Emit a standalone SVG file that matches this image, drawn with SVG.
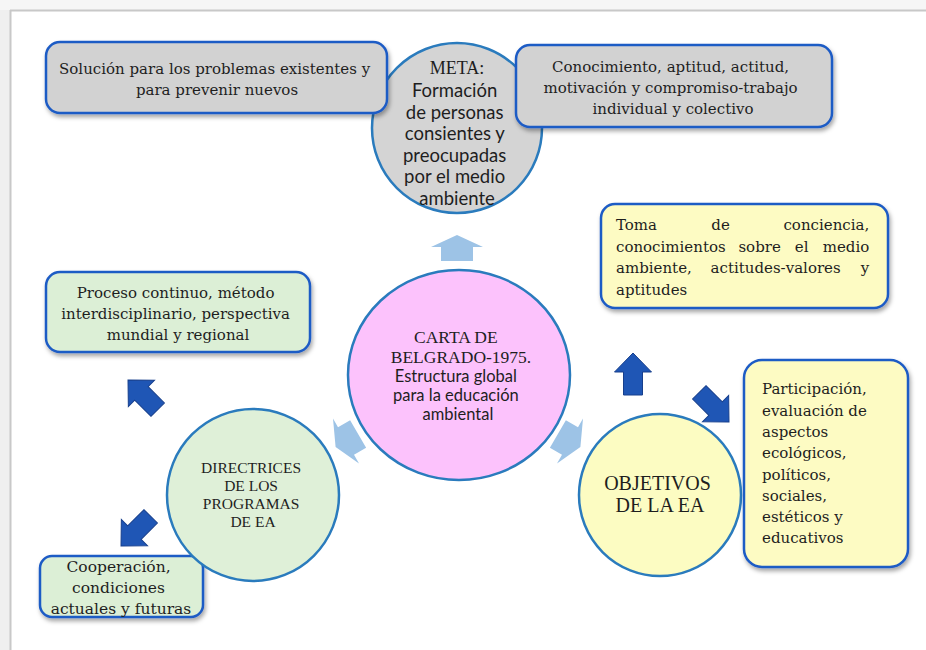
<svg xmlns="http://www.w3.org/2000/svg" width="926" height="650" viewBox="0 0 926 650">
  <style>
    .box { stroke: #1f5bc5; stroke-width: 2.5; filter: url(#shadow); }
    .gray { fill: #d2d2d2; }
    .green { fill: #dcefd6; }
    .yellow { fill: #fdfbc3; }
    .circ { stroke: #2a7bbd; stroke-width: 2.5; }
    .serif { font-family: "Liberation Serif", "DejaVu Serif", serif; fill: #1e1e1e; }
    .body { font-family: "DejaVu Serif", "Liberation Serif", serif; fill: #1e1e1e; font-size: 15px; }
    .sans { font-family: Lato, "Open Sans", "Liberation Sans", sans-serif; fill: #1e1e1e; }
    .mid { text-anchor: middle; }
    .end { text-anchor: end; }
    .light { fill: #9dc3e6; }
    .dark { fill: #1f56b5; stroke: #173f8c; stroke-width: 1; }
  </style>
  <defs>
    <filter id="shadow" x="-10%" y="-10%" width="120%" height="130%">
      <feDropShadow dx="1.5" dy="3" stdDeviation="2" flood-color="#000" flood-opacity="0.35"/>
    </filter>
    <!-- block arrows, pointing along +x -->
    <path id="lightArrow" d="M12,0 L0,-26 L0,-16 L-14,-16 L-14,16 L0,16 L0,26 Z"/>
    <path id="darkArrow" d="M0,0 L-19,-18.5 L-19,-9.5 L-42,-9.5 L-42,9.5 L-19,9.5 L-19,18.5 Z"/>
  </defs>

  <!-- page background and frame -->
  <rect x="0" y="0" width="926" height="650" fill="#ffffff"/>
  <rect x="0" y="0" width="10" height="650" fill="#efefef"/>
  <rect x="0" y="0" width="926" height="10" fill="#f6f6f6"/>
  <line x1="10" y1="10.5" x2="926" y2="10.5" stroke="#c8c8c8" stroke-width="2"/>
  <line x1="10.5" y1="10" x2="10.5" y2="650" stroke="#c8c8c8" stroke-width="2"/>

  <!-- connectors -->
  <g id="connectors">
    <use href="#lightArrow" class="light" transform="translate(457,247) rotate(-90)"/>
    <use href="#lightArrow" class="light" transform="translate(346,441) rotate(150)"/>
    <use href="#lightArrow" class="light" transform="translate(570,441) rotate(30)"/>
    <use href="#darkArrow" class="dark" transform="translate(633,353) rotate(-90)"/>
    <use href="#darkArrow" class="dark" transform="translate(729,422) rotate(45)"/>
    <use href="#darkArrow" class="dark" transform="translate(128,380) rotate(-135)"/>
    <use href="#darkArrow" class="dark" transform="translate(121,546) rotate(135)"/>
  </g>

  <g id="meta">
    <ellipse cx="457" cy="128" rx="85" ry="85" class="circ" fill="#d4d4d4"/>
    <text class="serif mid" x="457" y="74" font-size="18">META:</text>
    <text class="sans mid" font-size="18.5">
      <tspan x="457" y="97">Formación</tspan>
      <tspan x="457" y="118.5">de personas</tspan>
      <tspan x="457" y="140">consientes y</tspan>
      <tspan x="457" y="161.5">preocupadas</tspan>
      <tspan x="457" y="183">por el medio</tspan>
      <tspan x="457" y="204.5">ambiente</tspan>
    </text>
  </g>

  <g id="solucion">
    <rect x="46" y="42" width="341" height="71" rx="14" class="box gray"/>
    <text class="body mid">
      <tspan x="217" y="74">Solución para los problemas existentes y</tspan>
      <tspan x="217" y="95">para prevenir nuevos</tspan>
    </text>
  </g>

  <g id="conocimiento">
    <rect x="516" y="45" width="316" height="82" rx="14" class="box gray"/>
    <text class="body mid">
      <tspan x="673" y="72">Conocimiento, aptitud, actitud,</tspan>
      <tspan x="673" y="93">motivación y compromiso-trabajo</tspan>
      <tspan x="673" y="114">individual y colectivo</tspan>
    </text>
  </g>

  <g id="toma">
    <rect x="601" y="204" width="287" height="104" rx="14" class="box yellow"/>
    <!-- justified paragraph: words placed one by one -->
    <text class="body">
      <tspan x="616" y="230">Toma</tspan>
      <tspan x="723" y="230" text-anchor="middle">de</tspan>
      <tspan x="874" y="230" text-anchor="end">conciencia,</tspan>
      <tspan x="616" y="252">conocimientos</tspan>
      <tspan x="762" y="252" text-anchor="middle">sobre</tspan>
      <tspan x="804" y="252" text-anchor="middle">el</tspan>
      <tspan x="874" y="252" text-anchor="end">medio</tspan>
      <tspan x="616" y="273">ambiente,</tspan>
      <tspan x="778" y="273" text-anchor="middle">actitudes-valores</tspan>
      <tspan x="874" y="273" text-anchor="end">y</tspan>
      <tspan x="616" y="295">aptitudes</tspan>
    </text>
  </g>

  <g id="proceso">
    <rect x="46" y="272" width="264" height="80" rx="14" class="box green"/>
    <text class="body mid">
      <tspan x="178" y="298">Proceso continuo, método</tspan>
      <tspan x="178" y="319">interdisciplinario, perspectiva</tspan>
      <tspan x="178" y="340">mundial y regional</tspan>
    </text>
  </g>

  <g id="carta">
    <ellipse cx="459" cy="375" rx="111" ry="105" class="circ" fill="#fcc2fc"/>
    <text class="serif mid" font-size="17.5">
      <tspan x="458" y="343">CARTA DE</tspan>
      <tspan x="461" y="363">BELGRADO-1975.</tspan>
    </text>
    <text class="sans mid" font-size="16.5">
      <tspan x="458" y="382">Estructura global</tspan>
      <tspan x="458" y="401">para la educación</tspan>
      <tspan x="458" y="420">ambiental</tspan>
    </text>
  </g>

  <g id="cooperacion">
    <rect x="40" y="556" width="163" height="61" rx="12" class="box green"/>
    <text class="body mid" style="font-size:15.5px">
      <tspan x="121" y="572">Cooperación,</tspan>
      <tspan x="121" y="593">condiciones</tspan>
      <tspan x="121" y="614">actuales y futuras</tspan>
    </text>
  </g>

  <g id="directrices">
    <circle cx="253" cy="495" r="86" class="circ" fill="#dff0d8"/>
    <text class="serif mid" font-size="15.5">
      <tspan x="253" y="473">DIRECTRICES</tspan>
      <tspan x="253" y="491">DE LOS</tspan>
      <tspan x="253" y="509">PROGRAMAS</tspan>
      <tspan x="253" y="527">DE EA</tspan>
    </text>
  </g>

  <g id="objetivos">
    <circle cx="660" cy="495" r="81" class="circ" fill="#fcfcc2"/>
    <text class="serif mid" font-size="20">
      <tspan x="660" y="490">OBJETIVOS</tspan>
      <tspan x="660" y="512">DE LA EA</tspan>
    </text>
  </g>

  <g id="participacion">
    <rect x="744" y="360" width="164" height="207" rx="18" class="box yellow"/>
    <text class="body">
      <tspan x="762" y="394">Participación,</tspan>
      <tspan x="762" y="416">evaluación de</tspan>
      <tspan x="762" y="437">aspectos</tspan>
      <tspan x="762" y="458">ecológicos,</tspan>
      <tspan x="762" y="480">políticos,</tspan>
      <tspan x="762" y="501">sociales,</tspan>
      <tspan x="762" y="522">estéticos y</tspan>
      <tspan x="762" y="543">educativos</tspan>
    </text>
  </g>
</svg>
